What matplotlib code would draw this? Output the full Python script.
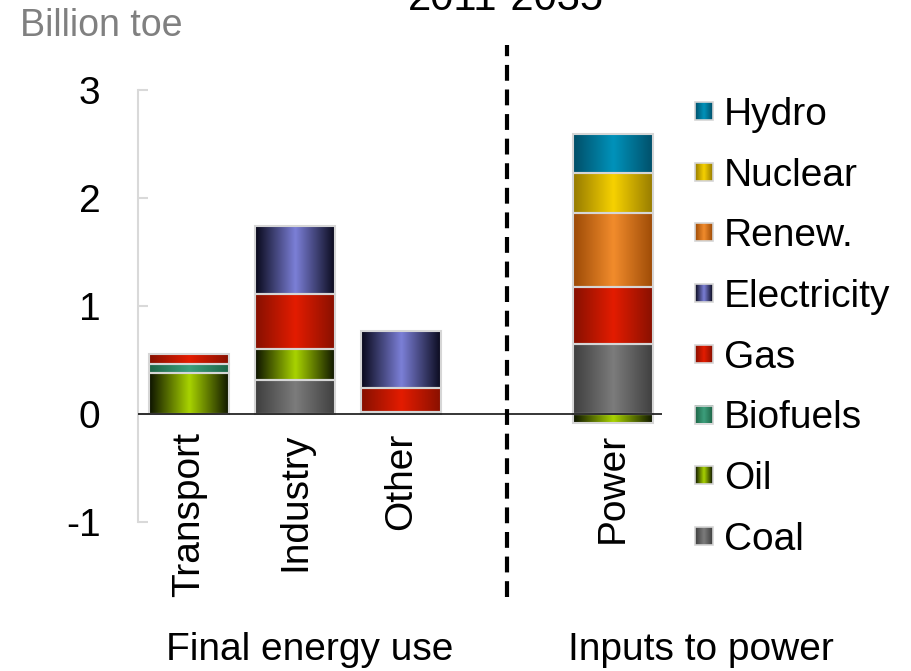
import numpy as np
import matplotlib
matplotlib.use("Agg")
from matplotlib import pyplot as plt
from matplotlib.colors import LinearSegmentedColormap
from matplotlib.patches import Rectangle

plt.rcParams['font.family'] = ['Liberation Sans', 'DejaVu Sans']

# data (billion toe, change 2011-2035)
sectors = ['Transport', 'Industry', 'Other', 'Power']
xpos = [0, 1, 2, 4]
fuels = ['Coal', 'Oil', 'Biofuels', 'Gas', 'Electricity', 'Renew.', 'Nuclear', 'Hydro']
coal = [0.0, 0.315, 0.02, 0.65]
oil = [0.38, 0.285, 0.0, -0.08]
biofuels = [0.08, 0.0, 0.0, 0.0]
gas = [0.10, 0.51, 0.22, 0.53]
electricity = [0.0, 0.63, 0.53, 0.0]
renew = [0.0, 0.0, 0.0, 0.68]
nuclear = [0.0, 0.0, 0.0, 0.37]
hydro = [0.0, 0.0, 0.0, 0.36]
series = [coal, oil, biofuels, gas, electricity, renew, nuclear, hydro]

# (edge shade, centre highlight) for the cylinder-ish gradient fills
shades = [('#3e3e3e', '#7c7c7c'),
          ('#0c1200', '#a9d400'),
          ('#1d6446', '#3d9f7c'),
          ('#861000', '#e41c00'),
          ('#08081a', '#7c80d8'),
          ('#9c4a06', '#f28c2c'),
          ('#957a00', '#f7d200'),
          ('#004e68', '#0093bb')]
cmaps = [LinearSegmentedColormap.from_list(f, [a, b, a]) for f, (a, b) in zip(fuels, shades)]
grad = np.linspace(0, 1, 128).reshape(1, -1)
edge = '#d6d6d6'

fig = plt.figure(figsize=(9.11, 6.71), dpi=100)
ax = fig.add_axes([138/911, 1 - 522/671, (662 - 138)/911, 432/671])

w = 0.755
for i, x in enumerate(xpos):
    pos, neg = 0.0, 0.0
    for vals, cm in zip(series, cmaps):
        v = vals[i]
        if v == 0:
            continue
        if v > 0:
            b = pos
            pos += v
        else:
            b = neg
            neg += v
        ax.imshow(grad, cmap=cm, aspect='auto', interpolation='bicubic',
                  extent=(x - w/2, x + w/2, b, b + v), zorder=2)
        ax.add_patch(Rectangle((x - w/2, b), w, v, fill=False, edgecolor=edge, lw=1.5, zorder=3))

ax.set_xlim(-0.481, 4.462)
ax.set_ylim(-1, 3)
ax.axhline(0, color='black', lw=1.1, zorder=4)
ax.axvline(3, ymin=-0.174, ymax=1.104, color='black', lw=3,
           linestyle=(0, (3.8, 2.1)), clip_on=False, zorder=5)

for s in ['top', 'right', 'bottom']:
    ax.spines[s].set_visible(False)
ax.spines['left'].set_color('#d9d9d9')
ax.spines['left'].set_linewidth(1.5)
ax.set_xticks([])
ax.set_yticks([-1, 0, 1, 2, 3])
ax.set_yticklabels(['-1', '0', '1', '2', '3'])
ax.tick_params(axis='y', direction='in', length=7, width=1.5, color='#d9d9d9',
               labelsize=28, pad=27)

for x, name in zip(xpos, sectors):
    ax.text(x, -0.17, name, rotation=90, ha='center', va='top', fontsize=28)

fig.text(20/911, 1 - 36/671, 'Billion toe', color='#808080', fontsize=27, va='baseline')
fig.text(506/911, 1 - 10/671, '2011-2035', ha='center', va='baseline', fontsize=30)
fig.text(310/911, 1 - 660/671, 'Final energy use', ha='center', va='baseline', fontsize=28)
fig.text(701/911, 1 - 660/671, 'Inputs to power', ha='center', va='baseline', fontsize=28)

# legend drawn by hand, top row = last series
lax = fig.add_axes([0, 0, 1, 1], facecolor='none')
lax.set_xlim(0, 911)
lax.set_ylim(671, 0)
lax.axis('off')
for k, (name, cm) in enumerate(zip(fuels[::-1], cmaps[::-1])):
    yc = 111 + 60.7 * k
    lax.imshow(grad, cmap=cm, aspect='auto', interpolation='bicubic',
               extent=(695, 713, yc + 9, yc - 9), zorder=2)
    lax.add_patch(Rectangle((695, yc - 9), 18, 18, fill=False, edgecolor=edge, lw=1.2, zorder=3))
    lax.text(724, yc + 14, name, fontsize=28, va='baseline', ha='left')
lax.set_xlim(0, 911)
lax.set_ylim(671, 0)

fig.savefig('out.png', dpi=100)
